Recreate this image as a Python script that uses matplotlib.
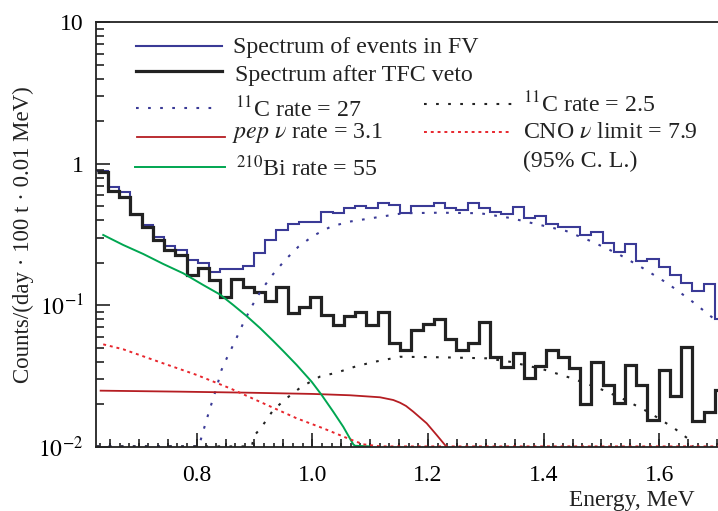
import numpy as np
import matplotlib
matplotlib.use("Agg")
import matplotlib.pyplot as plt
from matplotlib.ticker import MultipleLocator, LogLocator, FuncFormatter, NullFormatter

plt.rcParams['font.family'] = ['Liberation Serif', 'DejaVu Serif']
plt.rcParams['mathtext.fontset'] = 'stix'

# ---------------- data ----------------
bin_start = 0.627      # MeV, first bin edge
bin_width = 0.01944    # MeV

spectrum_fv = [0.890, 0.690, 0.633, 0.435, 0.372, 0.304, 0.263, 0.246, 0.209, 0.1995,
               0.172, 0.181, 0.181, 0.190, 0.2335, 0.290, 0.341, 0.376, 0.390, 0.390,
               0.459, 0.453, 0.484, 0.504, 0.484, 0.533, 0.512, 0.450, 0.507, 0.507,
               0.529, 0.486, 0.472, 0.529, 0.486, 0.459, 0.440, 0.492, 0.416, 0.426,
               0.373, 0.356, 0.356, 0.312, 0.330, 0.276, 0.237, 0.271, 0.205, 0.212,
               0.186, 0.163, 0.143, 0.126, 0.1417, 0.080]

spectrum_tfc = [0.876, 0.643, 0.581, 0.443, 0.358, 0.290, 0.246, 0.227, 0.164, 0.183,
                0.151, 0.115, 0.154, 0.134, 0.125, 0.108, 0.136, 0.088, 0.098, 0.115,
                0.0856, 0.0722, 0.0838, 0.0892, 0.0724, 0.0892, 0.054, 0.0484, 0.0674, 0.0743,
                0.0806, 0.0577, 0.0487, 0.0547, 0.0758, 0.0431, 0.0369, 0.0459, 0.0306, 0.0376,
                0.0484, 0.0432, 0.036, 0.0202, 0.040, 0.0274, 0.0204, 0.0379, 0.0275, 0.0155,
                0.035, 0.0229, 0.0511, 0.0153, 0.01776, 0.02527]

c11_high_E = [0.627, 0.700, 0.804, 0.807, 0.817, 0.826, 0.835, 0.843, 0.852, 0.866, 0.881,
              0.895, 0.912, 0.931, 0.953, 0.976, 1.002, 1.032, 1.063, 1.097, 1.157,
              1.221, 1.290, 1.342, 1.394, 1.439, 1.484, 1.529, 1.572, 1.614, 1.654, 1.692, 1.702]
c11_high_V = [0.0101, 0.0101, 0.0101, 0.0112, 0.0155, 0.0204, 0.0267, 0.035, 0.0423, 0.0554, 0.0755,
              0.098, 0.1285, 0.164, 0.2094, 0.26, 0.311, 0.36, 0.39, 0.41, 0.448,
              0.452, 0.448, 0.415, 0.37, 0.3355, 0.282, 0.231, 0.183, 0.1433, 0.109, 0.082, 0.076]

c11_low_E = [0.627, 0.750, 0.8956, 0.899, 0.912, 0.9325, 0.9556, 0.9816, 1.013, 1.042, 1.077,
             1.108, 1.152, 1.226, 1.3015, 1.342, 1.399, 1.4485, 1.4935, 1.539, 1.583,
             1.626, 1.651, 1.658]
c11_low_V = [0.0101, 0.0101, 0.0101, 0.01196, 0.01377, 0.01826, 0.0221, 0.0267, 0.0314, 0.0335, 0.0373,
             0.040, 0.0434, 0.043, 0.0423, 0.040, 0.0354, 0.0306, 0.0262, 0.0217, 0.0175,
             0.01355, 0.01133, 0.0101]

pep_E = [0.634, 0.771, 0.8865, 1.0016, 1.065, 1.117, 1.140, 1.1516, 1.162, 1.1746, 1.1978, 1.215, 1.2323]
pep_V = [0.0250, 0.0246, 0.0242, 0.0237, 0.0232, 0.02245, 0.02148, 0.02056, 0.0195, 0.01776, 0.0147, 0.01216, 0.0100]

bi_E = [0.6385, 0.6731, 0.7077, 0.7422, 0.7768, 0.8114, 0.8403, 0.8633, 0.8865, 0.9095, 0.9325,
        0.9498, 0.9729, 0.9989, 1.0162, 1.0362, 1.0535, 1.0708, 1.0738, 1.0997]
bi_V = [0.3146, 0.2673, 0.2309, 0.1963, 0.1687, 0.1394, 0.1195, 0.1007, 0.0841, 0.0693, 0.0561,
        0.0476, 0.038, 0.0289, 0.0233, 0.01776, 0.0139, 0.01045, 0.0102, 0.0101]

cno_E = [0.6385, 0.6731, 0.7422, 0.800, 0.8576, 0.9152, 0.9729, 1.0189, 1.0651, 1.0881, 1.117, 1.702]
cno_V = [0.0531, 0.049, 0.039, 0.0323, 0.026, 0.02036, 0.01595, 0.01355, 0.01134, 0.01045, 0.0101, 0.0101]

# ---------------- figure ----------------
W, H = 718, 511
fig = plt.figure(figsize=(W / 100, H / 100), dpi=100)
ax = fig.add_axes([96 / W, 1 - 447 / H, 622 / W, (447 - 22.3) / H])

edges = bin_start + bin_width * np.arange(len(spectrum_fv) + 1)

blue = '#3a3a96'
blk = '#222222'
red_dark = '#b51d22'
green = '#00a651'
red_dot = '#e8262d'

ax.stairs(spectrum_fv, edges, baseline=None, color=blue, lw=1.5)
ax.stairs(spectrum_tfc, edges, baseline=None, color=blk, lw=2.3)
ax.plot(c11_high_E, c11_high_V, color=blue, lw=1.5, ls=(0, (1.3, 4.5)))
ax.plot(c11_low_E, c11_low_V, color=blk, lw=1.5, ls=(0, (1.3, 4.5)))
ax.plot(pep_E, pep_V, color=red_dark, lw=1.3)
ax.plot(bi_E, bi_V, color=green, lw=1.4)
ax.plot(cno_E, cno_V, color=red_dot, lw=1.4, ls=(0, (1.5, 2.0)))

ax.set_yscale('log')
ax.set_xlim(0.626, 1.7015)
ax.set_ylim(0.01, 10)

# ticks
def yfmt(v, pos):
    e = int(round(np.log10(v)))
    if e == 0:
        return '1'
    if e == 1:
        return '10'
    return r'$10^{%d}$' % e

ax.yaxis.set_major_locator(LogLocator(base=10, numticks=10))
ax.yaxis.set_minor_locator(LogLocator(base=10, subs=np.arange(2, 10), numticks=20))
ax.yaxis.set_major_formatter(FuncFormatter(yfmt))
ax.yaxis.set_minor_formatter(NullFormatter())
ax.xaxis.set_major_locator(MultipleLocator(0.2))
ax.xaxis.set_minor_locator(MultipleLocator(0.05 / 3))
ax.xaxis.set_major_formatter(FuncFormatter(lambda v, p: '%.1f' % v))

ax.tick_params(which='both', direction='in', top=False, right=False, labelsize=17, width=1.2, color=blk)
ax.tick_params(axis='y', which='major', length=10, pad=9)
ax.tick_params(axis='y', which='minor', length=6)
ax.tick_params(axis='x', which='major', length=10, pad=13)
ax.tick_params(axis='x', which='minor', length=3)

sec = ax.secondary_xaxis('bottom')
sec.xaxis.set_major_locator(MultipleLocator(0.05))
sec.tick_params(direction='in', length=6, width=1.2, labelbottom=False, color=blk)
sec.spines['bottom'].set_visible(False)

for s in ax.spines.values():
    s.set_linewidth(1.3)
    s.set_color(blk)
ax.spines['right'].set_visible(False)

# ---------------- legend (manual) ----------------
def ax_x(px):
    return (px - 96) / 622

def ax_y(py):
    return (447 - py) / (447 - 22.3)

fs = 17.2
entries = [
    (136, 222, 46.5, dict(color=blue, lw=1.5), 233, 53.3, 'Spectrum of events in FV'),
    (136, 222, 71.0, dict(color=blk, lw=2.3), 235, 80.5, 'Spectrum after TFC veto'),
    (136, 215, 108.3, dict(color=blue, lw=1.5, ls=(0, (1.3, 4.5))), 235, 117.3, r'$^{11}$C rate = 27'),
    (137, 225, 137.3, dict(color=red_dark, lw=1.3), 232, 138.3, r'$pep\ \nu$ rate = 3.1'),
    (135, 225, 166.7, dict(color=green, lw=1.4), 236, 176.0, r'$^{210}$Bi rate = 55'),
    (424, 512, 104.3, dict(color=blk, lw=1.5, ls=(0, (1.3, 4.5))), 523, 112.7, r'$^{11}$C rate = 2.5'),
    (424, 512, 131.7, dict(color=red_dot, lw=1.4, ls=(0, (1.5, 2.0))), 523, 138.3, r'CNO $\nu$ limit = 7.9'),
]
for x0, x1, ly, style, tx, ty, label in entries:
    ax.plot([ax_x(x0), ax_x(x1)], [ax_y(ly), ax_y(ly)], transform=ax.transAxes, **style)
    ax.text(ax_x(tx), ax_y(ty), label, transform=ax.transAxes, fontsize=fs, va='baseline', ha='left', color=blk)
ax.text(ax_x(523), ax_y(166.7), '(95% C. L.)', transform=ax.transAxes, fontsize=fs, va='baseline', ha='left', color=blk)

fig.text(23 / W, 1 - 235 / H, 'Counts/(day · 100 t · 0.01 MeV)', rotation=90, ha='center', va='center',
         fontsize=16.5, color=blk)
fig.text(695 / W, 1 - 506 / H, 'Energy, MeV', ha='right', va='baseline', fontsize=16.8, color=blk)

fig.savefig('out.png', dpi=100)
